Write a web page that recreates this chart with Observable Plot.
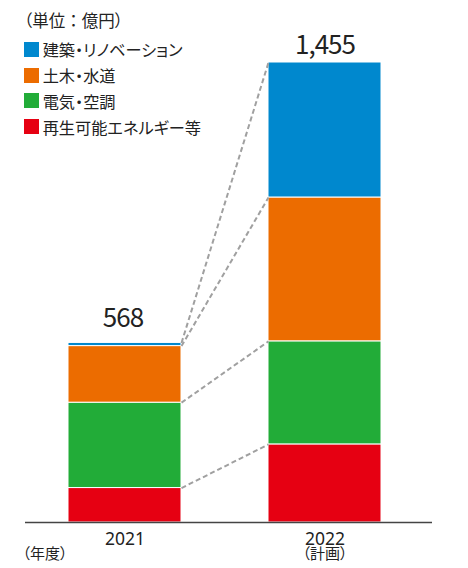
<!DOCTYPE html>
<html><head><meta charset="utf-8">
<script src="https://cdn.jsdelivr.net/npm/d3@7"></script>
<script src="https://cdn.jsdelivr.net/npm/@observablehq/plot@0.6"></script>
<style>
body{margin:0;background:#fff;font-family:"Noto Sans CJK JP","Noto Sans",sans-serif;font-feature-settings:"palt";color:#222;}
#wrap{position:relative;width:468px;height:568px;overflow:hidden;}
#legend{position:absolute;left:24px;top:11px;}
#legend .unit{font-size:16.5px;line-height:18px;height:18px;margin-bottom:7.6px;}
#legend .unit .colon{font-feature-settings:normal;}
#legend .row{display:flex;align-items:center;height:25.7px;font-size:16.2px;}
#legend .sw{width:15px;height:15px;margin-right:3.7px;flex:none;}
svg text{font-feature-settings:"palt";}
.total-label text{letter-spacing:-1px;}
</style>
</head><body>
<div id="wrap"><div id="chart"></div><div id="legend"></div></div>
<script>
// ---- data ----
const years = ["2021", "2022"];
const yearNotes = ["", "（計画）"];
// categories listed bottom-to-top of the stack
const categories = ["再生可能エネルギー等", "電気・空調", "土木・水道", "建築・リノベーション"];
const colors = ["#e60012", "#22ac38", "#ec6c00", "#0088ce"];
const values2021 = [109, 270, 179, 10];
const values2022 = [247, 326, 455, 427];
const totals = [568, 1455];
const unitLabel = "（単位：億円）";
const xAxisLabel = "（年度）";

// ---- build tables ----
const seriesByYear = [values2021, values2022];
const rows = years.flatMap((yr, i) => categories.map((c, j) => ({year: yr, category: c, value: seriesByYear[i][j]})));
const links = categories.map((c, j) => ({
  category: c,
  y1: d3.sum(values2021.slice(0, j + 1)),
  y2: d3.sum(values2022.slice(0, j + 1))
}));
const totalRows = years.map((yr, i) => ({year: yr, total: totals[i], note: yearNotes[i]}));
const fmt = d3.format(",");

const chart = Plot.plot({
  width: 468,
  height: 568,
  marginTop: 62,
  marginBottom: 46,
  marginLeft: 25,
  marginRight: 36,
  style: {fontFamily: '"Noto Sans CJK JP","Noto Sans",sans-serif', fontSize: "17px", color: "#222", background: "#fff"},
  x: {domain: years, paddingInner: 0.4333, paddingOuter: 0.234, align: 0.456, label: null, axis: null},
  y: {domain: [0, 1455], axis: null},
  color: {domain: categories, range: colors},
  marks: [
    Plot.barY(rows, {x: "year", y: "value", fill: "category", stroke: "white", strokeWidth: 1}),
    Plot.link(links, {
      x1: () => years[0], y1: "y1", x2: () => years[1], y2: "y2",
      stroke: "#a0a0a0", strokeWidth: 2, strokeDasharray: "5,3",
      render(index, scales, values, dimensions, context, next) {
        const bw = scales.x.bandwidth();
        const v = {...values,
          x1: Float64Array.from(values.x1, x => x + bw / 2),
          x2: Float64Array.from(values.x2, x => x - bw / 2)};
        return next(index, scales, v, dimensions, context);
      }
    }),
    Plot.ruleY([0], {stroke: "#444", strokeWidth: 1.3}),
    // year tick labels
    Plot.text(totalRows, {x: "year", frameAnchor: "bottom", text: "year", lineAnchor: "top", dy: 9.6, fontSize: 17.5, fontFamily: '"Noto Sans",sans-serif', fill: "#222"}),
    // totals
    Plot.text(totalRows.filter(d => d.year === "2021"), {x: "year", y: "total", text: d => fmt(d.total), lineAnchor: "bottom", dy: -16, dx: -2, fontSize: 26, fill: "#222", className: "total-label"}),
    Plot.text(totalRows.filter(d => d.year === "2022"), {x: "year", y: "total", text: d => fmt(d.total), lineAnchor: "bottom", dy: -8.5, fontSize: 26, fill: "#222", className: "total-label"}),
    // notes below ticks
    Plot.text(totalRows.filter(d => d.note), {x: "year", frameAnchor: "bottom", text: "note", dy: 36.5, fontSize: 15, fill: "#222"}),
    Plot.text([xAxisLabel], {frameAnchor: "bottom-left", text: d => d, textAnchor: "start", dx: -3, dy: 36.5, fontSize: 15, fill: "#222"})
  ]
});
document.getElementById("chart").appendChild(chart);

// ---- legend (top to bottom = reverse stack order) ----
const legend = document.getElementById("legend");
const u = document.createElement("div");
u.className = "unit";
const parts = unitLabel.split("：");
u.appendChild(document.createTextNode(parts[0]));
const colon = document.createElement("span");
colon.className = "colon";
colon.textContent = "：";
u.appendChild(colon);
u.appendChild(document.createTextNode(parts[1]));
legend.appendChild(u);
categories.map((c, j) => ({c, col: colors[j]})).reverse().forEach(({c, col}) => {
  const r = document.createElement("div");
  r.className = "row";
  const s = document.createElement("span");
  s.className = "sw";
  s.style.background = col;
  const t = document.createElement("span");
  t.textContent = c;
  r.appendChild(s);
  r.appendChild(t);
  legend.appendChild(r);
});
</script>
</body></html>
